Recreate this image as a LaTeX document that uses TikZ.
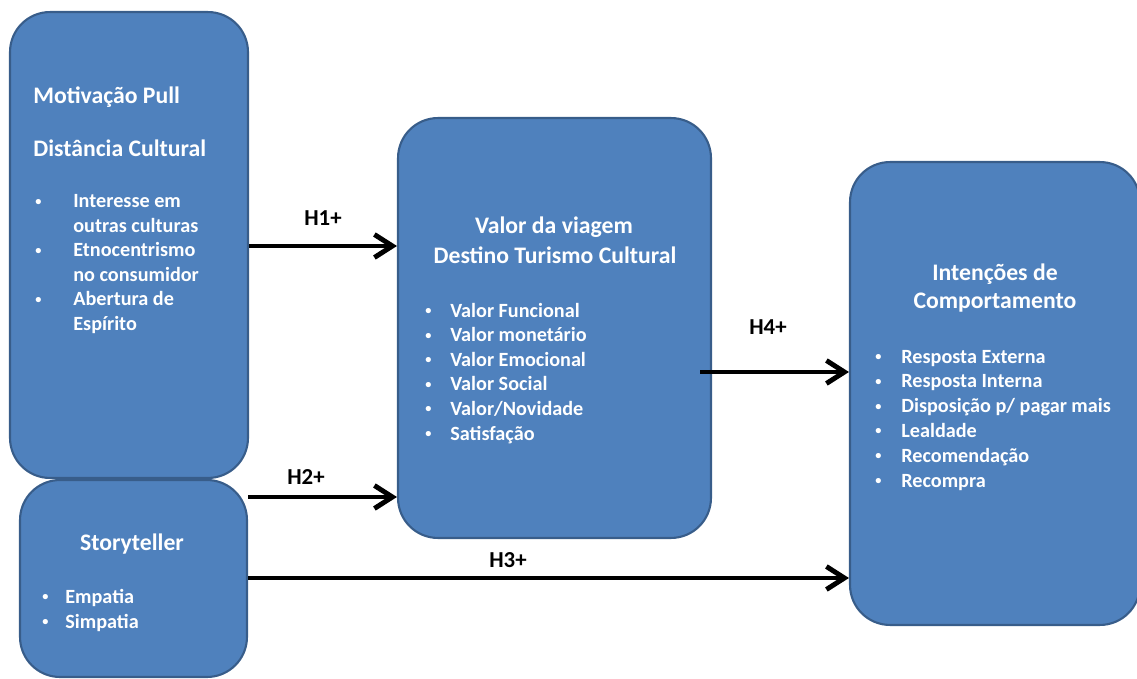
\documentclass[tikz,border=0pt]{standalone}
\usepackage{fontspec}
\setmainfont{Carlito}
\usetikzlibrary{arrows.meta, positioning, calc}
\definecolor{boxblue}{RGB}{79,129,189}
\definecolor{boxline}{RGB}{56,93,138}
\newcommand{\dotitem}{\raisebox{0.12em}{\fontsize{7}{8}\selectfont\textbullet}}

\begin{document}
\begin{tikzpicture}[x=0.02cm, y=-0.02cm,
    block/.style={draw=boxline, fill=boxblue, line width=1.2pt, rounded corners=0.8cm, inner sep=0pt},
    head/.style={text=white, font=\fontsize{13.5}{16}\selectfont\bfseries, inner sep=0pt},
    item/.style={text=white, font=\fontsize{11.5}{14}\selectfont\bfseries, inner sep=0pt, anchor=base west},
    hyp/.style={-{Straight Barb[length=3.6mm, width=4.6mm]}, line width=2.8pt},
    hlabel/.style={font=\fontsize{13}{15}\selectfont\bfseries, anchor=base, inner sep=0pt}]
  \useasboundingbox (0,0) rectangle (1137,679);

  % blocos
  \node[block, minimum width=4.76cm, minimum height=9.32cm] (pull) at (129,245) {};
  \node[block, minimum width=4.54cm, minimum height=3.94cm] (story) at (133.5,578.5) {};
  \node[block, minimum width=6.26cm, minimum height=8.4cm] (valor) at (554.5,328) {};
  \node[block, minimum width=5.8cm, minimum height=9.26cm] (intent) at (995,393.5) {};

  % textos
  \node[head, anchor=base west] (pull-t1) at (33,104) {Motivação Pull};
  \node[head, anchor=base west] (pull-t2) at (33,157) {Distância Cultural};
  \foreach \b/\t [count=\i] in {\dotitem/Interesse em, /outras culturas, \dotitem/Etnocentrismo,
      /no consumidor, \dotitem/Abertura de, /Espírito}
    \node[item] (pull-\i) at (35,{208+24.4*(\i-1)}) {\makebox[0.76cm][l]{\b}\t};

  \node[head, anchor=base] (story-t) at (132,550) {Storyteller};
  \foreach \t [count=\i] in {Empatia, Simpatia}
    \node[item] (story-\i) at (42,{603+25*(\i-1)}) {\makebox[0.46cm][l]{\dotitem}\t};

  \node[head, anchor=base] (valor-t1) at (554,234) {Valor da viagem};
  \node[head, anchor=base] (valor-t2) at (555,263) {Destino Turismo Cultural};
  \foreach \t [count=\i] in {Valor Funcional, Valor monetário, Valor Emocional, Valor Social,
      Valor/Novidade, Satisfação}
    \node[item] (valor-\i) at (425,{317+24.6*(\i-1)}) {\makebox[0.5cm][l]{\dotitem}\t};

  \node[head, anchor=base] (intent-t1) at (995,280) {Intenções de};
  \node[head, anchor=base] (intent-t2) at (995,308) {Comportamento};
  \foreach \t [count=\i] in {Resposta Externa, Resposta Interna, Disposição p/ pagar mais, Lealdade,
      Recomendação, Recompra}
    \node[item] (intent-\i) at (875,{363+24.8*(\i-1)}) {\makebox[0.52cm][l]{\dotitem}\t};

  % hipoteses
  \coordinate (h1y) at (0,246);
  \coordinate (h2y) at (0,497);
  \coordinate (h3y) at (0,578);
  \coordinate (h4y) at (0,372);
  \draw[hyp] (pull.east |- h1y) -- (valor.west |- h1y);
  \draw[hyp] (story.east |- h2y) -- (valor.west |- h2y);
  \draw[hyp] (story.east |- h3y) -- (intent.west |- h3y);
  \draw[hyp] ($(valor.east |- h4y)+(-12,0)$) -- (intent.west |- h4y);
  \node[hlabel] (h1) at (323,226) {H1+};
  \node[hlabel] (h2) at (306,484) {H2+};
  \node[hlabel] (h3) at (508,567) {H3+};
  \node[hlabel] (h4) at (768,335) {H4+};
\end{tikzpicture}
\end{document}
